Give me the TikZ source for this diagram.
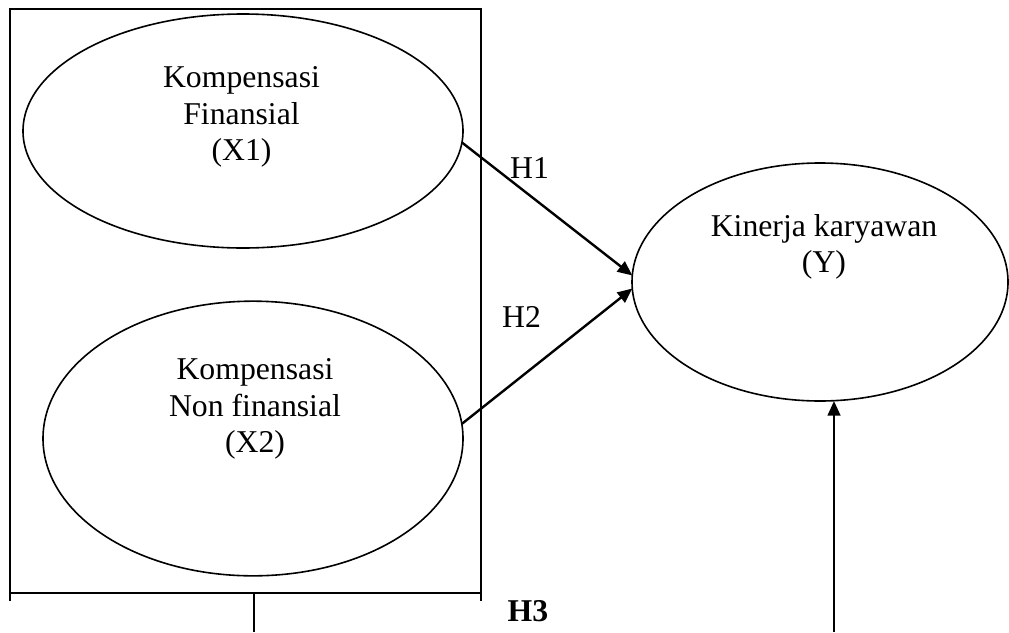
\documentclass[tikz,border=0pt]{standalone}
\usepackage{fontspec}
\setmainfont{Liberation Serif}
\usetikzlibrary{arrows.meta, shapes.geometric, positioning}

\begin{document}
\begin{tikzpicture}[x=0.75pt, y=-0.75pt,
        var/.style={draw, ellipse, line width=1.2pt, inner sep=0pt, outer sep=0pt},
        txt/.style={align=center, inner sep=0pt, font=\fontsize{23.8}{27.5}\selectfont},
        arr/.style={-{Triangle[length=11pt,width=9.5pt]}, line width=1.8pt}]
        \useasboundingbox (0,0) rectangle (1009,632);

        % box round X1 and X2, with the stub below it
        \coordinate (boxnw) at (10,9);
        \coordinate (boxse) at (481,593);
        \draw[line width=1.1pt] (boxnw) rectangle (boxse);
        \draw[line width=1.1pt] (boxnw |- boxse) -- ++(0,8) (boxse) -- ++(0,8);
        \coordinate (h3top) at (254,593);
        \coordinate (h3bot) at (254,632);
        \draw[line width=1.1pt] (h3top) -- (h3bot);

        % variables
        \node[var, minimum width=330pt, minimum height=175.5pt] (x1) at (243,131) {};
        \node[var, minimum width=315pt, minimum height=206pt] (x2) at (253,438.5) {};
        \node[var, minimum width=282pt, minimum height=178.5pt] (y) at (820,282) {};
        \node[txt] (x1text) at (241.5,117) {Kompensasi\\Finansial\\(X1)};
        \node[txt] (x2text) at (255,409) {Kompensasi\\Non finansial\\(X2)};
        \node[txt] (ytext) at (824,247) {Kinerja karyawan\\(Y)};

        % hypotheses
        \draw[arr] (x1.-3) -- (y.178);
        \draw[arr] (x2.4) -- (y.182);
        \coordinate (ybot) at (834,632);
        \draw[arr] (ybot) -- (ybot |- y.south);
        \node[txt, anchor=base] (h1) at (529.5,178) {H1};
        \node[txt, anchor=base] (h2) at (521.5,327) {H2};
        \node[txt, anchor=base, font=\fontsize{23.8}{27.5}\selectfont\bfseries] (h3) at (528,621) {H3};
    \end{tikzpicture}
\end{document}
